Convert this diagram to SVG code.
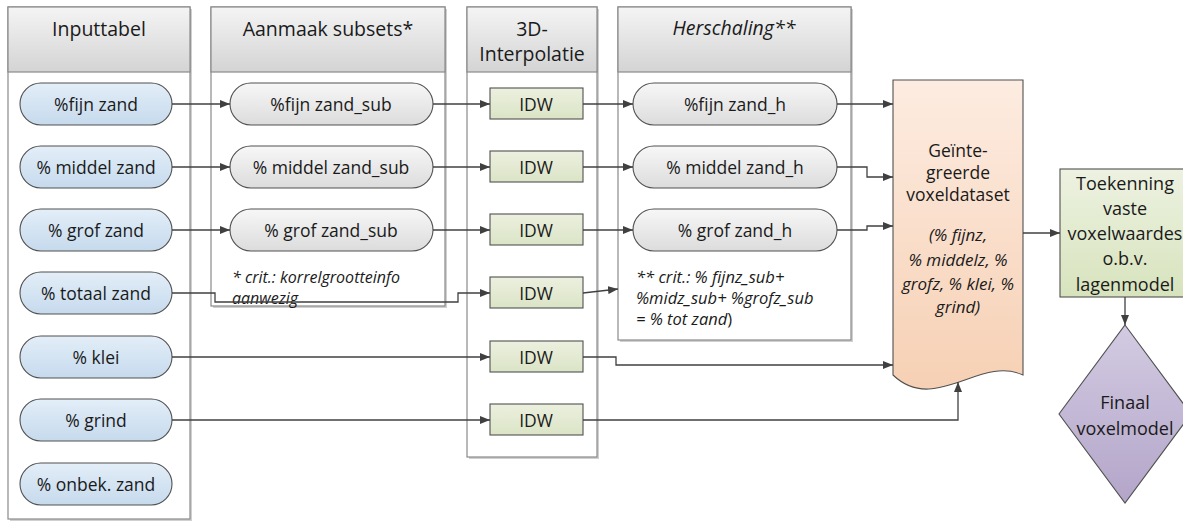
<svg xmlns="http://www.w3.org/2000/svg" width="1183" height="521" viewBox="0 0 1183 521">
<defs>
<linearGradient id="gHead" x1="0" y1="0" x2="0" y2="1"><stop offset="0" stop-color="#f4f4f4"/><stop offset="1" stop-color="#d4d4d4"/></linearGradient>
<linearGradient id="gBlue" x1="0" y1="0" x2="0" y2="1"><stop offset="0" stop-color="#e3eef8"/><stop offset="1" stop-color="#c6daed"/></linearGradient>
<linearGradient id="gGrey" x1="0" y1="0" x2="0" y2="1"><stop offset="0" stop-color="#f7f7f7"/><stop offset="1" stop-color="#dcdcdc"/></linearGradient>
<linearGradient id="gIdw" x1="0" y1="0" x2="0" y2="1"><stop offset="0" stop-color="#ecf0df"/><stop offset="1" stop-color="#dbe4c6"/></linearGradient>
<linearGradient id="gDoc" x1="0" y1="0" x2="0" y2="1"><stop offset="0" stop-color="#fdece1"/><stop offset="1" stop-color="#f6d0b4"/></linearGradient>
<linearGradient id="gGreen" x1="0" y1="0" x2="0" y2="1"><stop offset="0" stop-color="#edf2e1"/><stop offset="1" stop-color="#d7e3bd"/></linearGradient>
<linearGradient id="gPurple" x1="0" y1="0" x2="0" y2="1"><stop offset="0" stop-color="#d3cbe2"/><stop offset="1" stop-color="#b3a5c9"/></linearGradient>
<marker id="arr" viewBox="0 0 10 8" refX="10" refY="4" markerWidth="10" markerHeight="8" markerUnits="userSpaceOnUse" orient="auto"><path d="M0,0 L10,4 L0,8 Z" fill="#404040"/></marker>
</defs>
<style>
.cont{fill:#ffffff;stroke:#8a8a8a;stroke-width:1.2}
.sh{fill:#d0d0d0;stroke:none}
.head{fill:url(#gHead);stroke:#8a8a8a;stroke-width:1.2}
.inp{fill:url(#gBlue);stroke:#505050;stroke-width:1.1}
.sub{fill:url(#gGrey);stroke:#505050;stroke-width:1.1}
.idw{fill:url(#gIdw);stroke:#505050;stroke-width:1.1}
.doc{fill:url(#gDoc);stroke:#505050;stroke-width:1.1}
.tk{fill:url(#gGreen);stroke:#505050;stroke-width:1.1}
.dia{fill:url(#gPurple);stroke:#505050;stroke-width:1.1}
text{font-family:"Open Sans","Liberation Sans",sans-serif;fill:#1a1a1a;text-anchor:middle;dominant-baseline:central}
.ht{font-size:19.5px}
.lt{font-size:17.5px}
.bt{font-size:18px}
.dt{font-size:17.5px}
.it{font-style:italic;font-size:16px;text-anchor:start}
.it2{font-style:italic;font-size:16.5px;text-anchor:start}
.itc{font-style:italic;font-size:17px}
.con{fill:none;stroke:#404040;stroke-width:1.3;marker-end:url(#arr)}
</style>

<g id="col-inputtabel">
<rect class="sh" x="10" y="9" width="182" height="512"/>
<rect class="cont" x="8" y="7" width="182" height="512"/>
<rect class="head" x="8" y="7" width="182" height="65"/>
<text class="ht" x="99" y="28">Inputtabel</text>
</g>
<g id="col-subsets">
<rect class="sh" x="213" y="9" width="234" height="299"/>
<rect class="cont" x="211" y="7" width="234" height="299"/>
<rect class="head" x="211" y="7" width="234" height="65"/>
<text class="ht" x="328" y="28">Aanmaak subsets*</text>
<text class="it" x="232" y="277">* crit.: korrelgrootteinfo</text>
<text class="it" x="232" y="298">aanwezig</text>
</g>
<g id="col-interpolatie">
<rect class="sh" x="469" y="9" width="130" height="450"/>
<rect class="cont" x="467" y="7" width="130" height="450"/>
<rect class="head" x="467" y="7" width="130" height="65"/>
<text class="ht" x="532" y="28">3D-</text>
<text class="ht" x="532" y="53">Interpolatie</text>
</g>
<g id="col-herschaling">
<rect class="sh" x="620" y="9" width="233" height="333"/>
<rect class="cont" x="618" y="7" width="233" height="333"/>
<rect class="head" x="618" y="7" width="233" height="65"/>
<text class="ht" x="734" y="27" font-style="italic">Herschaling**</text>
<text class="it2" x="636" y="276">** crit.: % fijnz_sub+</text>
<text class="it2" x="636" y="297">%midz_sub+ %grofz_sub</text>
<text class="it2" x="636" y="318">= % tot zand<tspan font-style="normal">)</tspan></text>
</g>

<g id="in-fijn"><rect class="inp" x="20" y="83" width="152" height="42" rx="21"/><text class="lt" x="96" y="104">%fijn zand</text></g>
<g id="in-middel"><rect class="inp" x="20" y="146" width="152" height="42" rx="21"/><text class="lt" x="96" y="167">% middel zand</text></g>
<g id="in-grof"><rect class="inp" x="20" y="209" width="152" height="42" rx="21"/><text class="lt" x="96" y="230">% grof zand</text></g>
<g id="in-totaal"><rect class="inp" x="20" y="272" width="152" height="42" rx="21"/><text class="lt" x="96" y="293">% totaal zand</text></g>
<g id="in-klei"><rect class="inp" x="20" y="336" width="152" height="42" rx="21"/><text class="lt" x="96" y="357">% klei</text></g>
<g id="in-grind"><rect class="inp" x="20" y="399" width="152" height="42" rx="21"/><text class="lt" x="96" y="420">% grind</text></g>
<g id="in-onbek"><rect class="inp" x="20" y="463" width="152" height="42" rx="21"/><text class="lt" x="96" y="484">% onbek. zand</text></g>

<g id="sub-fijn"><rect class="sub" x="230" y="83" width="203" height="42" rx="21"/><text class="lt" x="331" y="104">%fijn zand_sub</text></g>
<g id="sub-middel"><rect class="sub" x="230" y="146" width="203" height="42" rx="21"/><text class="lt" x="331" y="167">% middel zand_sub</text></g>
<g id="sub-grof"><rect class="sub" x="230" y="209" width="203" height="42" rx="21"/><text class="lt" x="331" y="230">% grof zand_sub</text></g>

<g id="idw-1"><rect class="idw" x="490" y="88" width="93" height="31"/><text class="lt" x="536" y="104">IDW</text></g>
<g id="idw-2"><rect class="idw" x="490" y="151" width="93" height="31"/><text class="lt" x="536" y="167">IDW</text></g>
<g id="idw-3"><rect class="idw" x="490" y="214" width="93" height="31"/><text class="lt" x="536" y="230">IDW</text></g>
<g id="idw-4"><rect class="idw" x="490" y="277" width="93" height="31"/><text class="lt" x="536" y="293">IDW</text></g>
<g id="idw-5"><rect class="idw" x="490" y="341" width="93" height="31"/><text class="lt" x="536" y="357">IDW</text></g>
<g id="idw-6"><rect class="idw" x="490" y="404" width="93" height="31"/><text class="lt" x="536" y="420">IDW</text></g>

<g id="h-fijn"><rect class="sub" x="633" y="83" width="204" height="42" rx="21"/><text class="lt" x="735" y="104">%fijn zand_h</text></g>
<g id="h-middel"><rect class="sub" x="633" y="146" width="204" height="42" rx="21"/><text class="lt" x="735" y="167">% middel zand_h</text></g>
<g id="h-grof"><rect class="sub" x="633" y="209" width="204" height="42" rx="21"/><text class="lt" x="735" y="230">% grof zand_h</text></g>

<g id="dataset">
<path class="doc" d="M893,80 H1023 V375 C980,355 935,415 893,375 Z"/>
<text class="dt" x="958" y="150">Geïnte-</text>
<text class="dt" x="958" y="172">greerde</text>
<text class="dt" x="958" y="194">voxeldataset</text>
<text class="itc" x="958" y="234">(% fijnz,</text>
<text class="itc" x="958" y="259">% middelz, %</text>
<text class="itc" x="958" y="283">grofz, % klei, %</text>
<text class="itc" x="958" y="306">grind)</text>
</g>
<g id="toekenning">
<rect class="tk" x="1060" y="169" width="130" height="128"/>
<text class="bt" x="1125" y="183">Toekenning</text>
<text class="bt" x="1125" y="208">vaste</text>
<text class="bt" x="1125" y="233">voxelwaardes</text>
<text class="bt" x="1125" y="258">o.b.v.</text>
<text class="bt" x="1125" y="284">lagenmodel</text>
</g>
<g id="finaal">
<path class="dia" d="M1125,325 L1191,414 L1125,503 L1059,414 Z"/>
<text class="bt" x="1125" y="402">Finaal</text>
<text class="bt" x="1125" y="428">voxelmodel</text>
</g>

<g id="connectors">
<path class="con" d="M172,104 H230"/>
<path class="con" d="M433,104 H490"/>
<path class="con" d="M583,104 H633"/>
<path class="con" d="M837,104 H893"/>
<path class="con" d="M172,167 H230"/>
<path class="con" d="M433,167 H490"/>
<path class="con" d="M583,167 H633"/>
<path class="con" d="M837,167 H867 V177 H893"/>
<path class="con" d="M172,230 H230"/>
<path class="con" d="M433,230 H490"/>
<path class="con" d="M583,230 H633"/>
<path class="con" d="M837,230 H867 V226 H893"/>
<path class="con" d="M172,293 H215 V302 H458 V293 H490"/>
<path class="con" d="M583,293 L618,289"/>
<path class="con" d="M172,357 H490"/>
<path class="con" d="M583,357 H616 V365 H893"/>
<path class="con" d="M172,420 H490"/>
<path class="con" d="M583,420 H958 V382"/>
<path class="con" d="M1023,233 H1060"/>
<path class="con" d="M1125,297 V325"/>
</g>
</svg>
